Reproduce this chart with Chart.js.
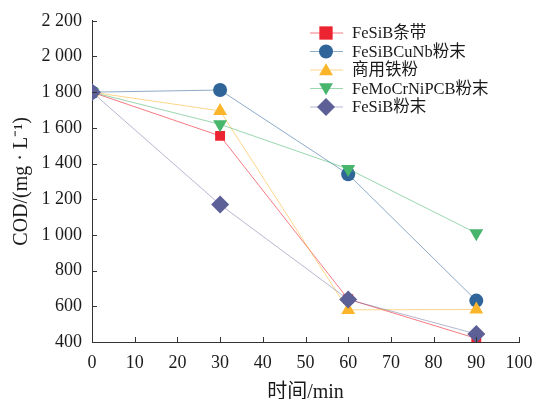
<!DOCTYPE html>
<html>
<head>
<meta charset="utf-8">
<script src="https://cdn.jsdelivr.net/npm/chart.js@4/dist/chart.umd.min.js"></script>
<style>
  html, body { margin: 0; padding: 0; background: #fff; }
  #wrap { width: 533px; height: 399px; position: relative; }
</style>
</head>
<body>
<div id="wrap"><canvas id="codChart"></canvas></div>
<script>
// 时间 (min)
var times = [0, 30, 60, 90];
var xTicks = [0, 10, 20, 30, 40, 50, 60, 70, 80, 90, 100];
var yTicks = [400, 600, 800, 1000, 1200, 1400, 1600, 1800, 2000, 2200];

// COD 值
var feSiBRibbon = [1800, 1555, 640, 420];
var feSiBCuNb = [1800, 1812, 1340, 632];
var commercialFe = [1800, 1695, 580, 582];
var feMoCrNiPCB = [1800, 1620, 1370, 1010];
var feSiBPowder = [1800, 1170, 638, 445];

var names = ['FeSiB条带', 'FeSiBCuNb粉末', '商用铁粉', 'FeMoCrNiPCB粉末', 'FeSiB粉末'];

var serif = '"Liberation Serif", "Noto Sans CJK SC", serif';

function pts(arr) {
    return arr.map(function (v, i) { return { x: times[i], y: v }; });
}

function fmt(v) {
    if (v >= 1000) {
        var s = String(v);
        return s.slice(0, s.length - 3) + ' ' + s.slice(s.length - 3);
    }
    return String(v);
}

var styles = [
    { mark: '#ec2330', line: 'rgba(236,35,48,0.6)', shape: 'rect', r: 7, order: 5 },
    { mark: '#2f6599', line: 'rgba(47,101,153,0.55)', shape: 'circle', r: 7, order: 4 },
    { mark: '#fbb52a', line: 'rgba(251,181,42,0.55)', shape: 'triangle', r: 8, order: 3 },
    { mark: '#47b56c', line: 'rgba(71,181,108,0.55)', shape: 'triangle', r: 8, order: 2, rot: 180 },
    { mark: '#5d5f97', line: 'rgba(93,95,151,0.45)', shape: 'rectRot', r: 9, order: 1 }
];

var series = [feSiBRibbon, feSiBCuNb, commercialFe, feMoCrNiPCB, feSiBPowder];

var datasets = series.map(function (s, i) {
    var st = styles[i];
    return {
        label: names[i],
        data: pts(s),
        borderColor: st.line,
        borderWidth: 1,
        backgroundColor: st.mark,
        pointBackgroundColor: st.mark,
        pointBorderColor: st.mark,
        pointBorderWidth: 0,
        pointStyle: st.shape,
        pointRadius: st.r,
        pointRotation: st.rot || 0,
        order: st.order,
        tension: 0
    };
});

// 刻度朝内 + 自定义图例
var decor = {
    id: 'decor',
    afterDraw: function (chart) {
        var ctx = chart.ctx;
        var xs = chart.scales.x, ys = chart.scales.y;
        var area = chart.chartArea;
        ctx.save();
        ctx.strokeStyle = '#333';
        ctx.lineWidth = 1;
        ctx.beginPath();
        xTicks.forEach(function (t) {
            var px = Math.round(xs.getPixelForValue(t)) + 0.5;
            ctx.moveTo(px, area.bottom);
            ctx.lineTo(px, area.bottom - 5);
        });
        yTicks.forEach(function (t) {
            var py = Math.round(ys.getPixelForValue(t)) + 0.5;
            ctx.moveTo(area.left, py);
            ctx.lineTo(area.left + 5, py);
        });
        ctx.stroke();

        // legend
        ctx.font = '16.5px ' + serif;
        ctx.textBaseline = 'middle';
        ctx.textAlign = 'left';
        chart.data.datasets.forEach(function (ds, i) {
            var y = 33 + i * 18.5;
            ctx.strokeStyle = ds.borderColor;
            ctx.beginPath();
            ctx.moveTo(310, y);
            ctx.lineTo(343, y);
            ctx.stroke();
            ctx.fillStyle = ds.pointBackgroundColor;
            drawMark(ctx, ds.pointStyle, 326, y, ds.pointRadius, ds.pointRotation);
            ctx.fillStyle = '#1a1a1a';
            ctx.fillText(ds.label, 352, y + 1);
        });
        ctx.restore();
    }
};

function drawMark(ctx, shape, x, y, r, rot) {
    ctx.beginPath();
    if (shape === 'rect') {
        var s = r * 0.95;
        ctx.rect(x - s, y - s, s * 2, s * 2);
    } else if (shape === 'circle') {
        ctx.arc(x, y, r, 0, Math.PI * 2);
    } else if (shape === 'triangle') {
        var a0 = (rot || 0) * Math.PI / 180;
        for (var k = 0; k < 3; k++) {
            var a = a0 - Math.PI / 2 + k * 2 * Math.PI / 3;
            var px = x + Math.cos(a) * r, py = y + Math.sin(a) * r + (rot ? -r * 0.15 : r * 0.15);
            if (k === 0) ctx.moveTo(px, py); else ctx.lineTo(px, py);
        }
        ctx.closePath();
    } else if (shape === 'rectRot') {
        ctx.moveTo(x, y - r);
        ctx.lineTo(x + r, y);
        ctx.lineTo(x, y + r);
        ctx.lineTo(x - r, y);
        ctx.closePath();
    }
    ctx.fill();
}

new Chart(document.getElementById('codChart'), {
    type: 'line',
    data: { datasets: datasets },
    options: {
        responsive: true,
        maintainAspectRatio: false,
        animation: false,
        layout: { padding: { left: 0, right: 0, top: 17, bottom: 0 } },
        plugins: {
            legend: { display: false },
            tooltip: { enabled: false }
        },
        scales: {
            x: {
                type: 'linear',
                min: 0,
                max: 100,
                afterBuildTicks: function (scale) {
                    scale.ticks = xTicks.map(function (v) { return { value: v }; });
                },
                afterFit: function (scale) {
                    scale.height = 57;
                    scale.paddingRight = 14;
                },
                grid: { display: false, drawTicks: false },
                border: { display: true, color: '#333', width: 1 },
                ticks: {
                    color: '#1a1a1a',
                    padding: 10,
                    maxRotation: 0,
                    font: { family: serif, size: 18 }
                },
                title: {
                    display: true,
                    text: '时间/min',
                    color: '#1a1a1a',
                    padding: { top: 0, bottom: -6 },
                    font: { family: serif, size: 20 }
                }
            },
            y: {
                min: 400,
                max: 2200,
                afterBuildTicks: function (scale) {
                    scale.ticks = yTicks.map(function (v) { return { value: v }; });
                },
                afterFit: function (scale) { scale.width = 92; },
                grid: { display: false, drawTicks: false },
                border: { display: true, color: '#333', width: 1 },
                ticks: {
                    color: '#1a1a1a',
                    padding: 10,
                    font: { family: serif, size: 18 },
                    callback: function (v) { return fmt(v); }
                },
                title: {
                    display: true,
                    text: 'COD/(mg · L⁻¹)',
                    color: '#1a1a1a',
                    padding: { top: 10, bottom: 2 },
                    font: { family: serif, size: 20 }
                }
            }
        }
    },
    plugins: [decor]
});
</script>
</body>
</html>
